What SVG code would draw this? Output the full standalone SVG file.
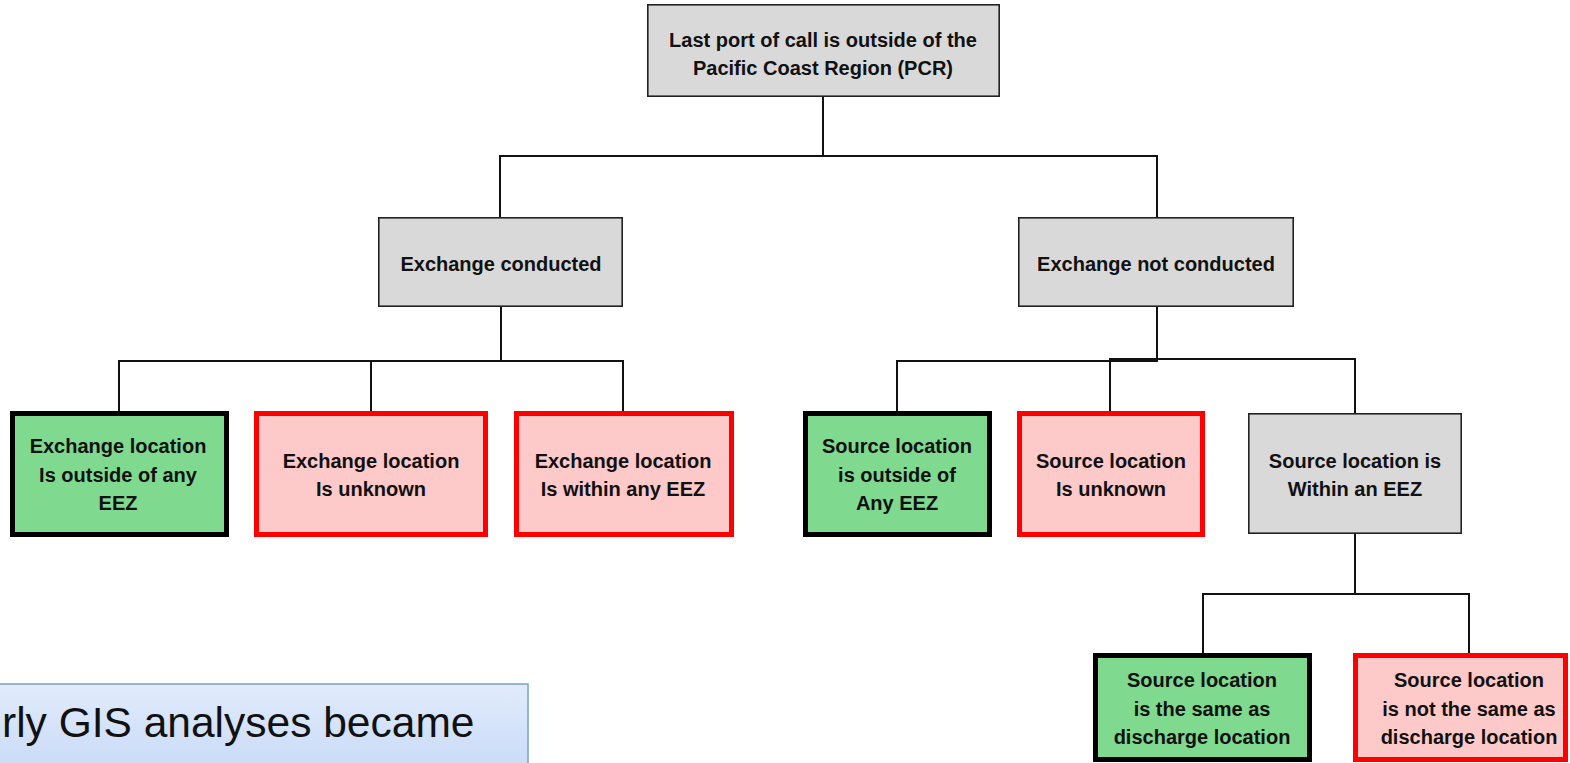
<svg xmlns="http://www.w3.org/2000/svg" width="1570" height="763" viewBox="0 0 1570 763">
<defs>
<linearGradient id="blueGrad" x1="0" y1="0" x2="0" y2="1">
<stop offset="0" stop-color="#e1ebfc"/>
<stop offset="1" stop-color="#c8daf6"/>
</linearGradient>
</defs>
<style>
.gray{fill:#d9d9d9;stroke:#222;stroke-width:1.6}
.green{fill:#7fd98f;stroke:#000;stroke-width:5}
.red{fill:#fdc9c9;stroke:#ff0000;stroke-width:5}
.t{font-family:"Liberation Sans",Arial,sans-serif;font-weight:bold;font-size:20px;fill:#111;text-anchor:middle}
.conn{fill:none;stroke:#111;stroke-width:2}
.big{font-family:"Liberation Sans",Arial,sans-serif;font-size:42.5px;fill:#111}
</style>
<rect width="1570" height="763" fill="#fff"/>
<g id="connectors" class="conn">
<path d="M823,97 V156"/>
<path d="M500,217 V156 H1157 V217"/>
<path d="M501,307 V361"/>
<path d="M119,411 V361 H623 V411"/>
<path d="M371,361 V411"/>
<path d="M1157,307 V361 H897 V411"/>
<path d="M1110,411 V359 H1355 V413"/>
<path d="M1355,534 V594"/>
<path d="M1203,653 V594 H1469 V653"/>
</g>
<g id="n_top">
<rect class="gray" x="647.8" y="4.8" width="351.4" height="91.4"/>
<text class="t" x="823" y="47">Last port of call is outside of the</text>
<text class="t" x="823" y="75">Pacific Coast Region (PCR)</text>
</g>
<g id="n_exch">
<rect class="gray" x="378.8" y="217.8" width="243.4" height="88.4"/>
<text class="t" x="501" y="271">Exchange conducted</text>
</g>
<g id="n_noexch">
<rect class="gray" x="1018.8" y="217.8" width="274.4" height="88.4"/>
<text class="t" x="1156" y="271">Exchange not conducted</text>
</g>
<g id="n_ex_outside">
<rect class="green" x="12.5" y="413.5" width="214" height="121"/>
<text class="t" x="118" y="453">Exchange location</text>
<text class="t" x="118" y="482">Is outside of any</text>
<text class="t" x="118" y="510">EEZ</text>
</g>
<g id="n_ex_unknown">
<rect class="red" x="256.5" y="413.5" width="229" height="121"/>
<text class="t" x="371" y="468">Exchange location</text>
<text class="t" x="371" y="496">Is unknown</text>
</g>
<g id="n_ex_within">
<rect class="red" x="516.5" y="413.5" width="215" height="121"/>
<text class="t" x="623" y="468">Exchange location</text>
<text class="t" x="623" y="496">Is within any EEZ</text>
</g>
<g id="n_src_outside">
<rect class="green" x="805.5" y="413.5" width="184" height="121"/>
<text class="t" x="897" y="453">Source location</text>
<text class="t" x="897" y="482">is outside of</text>
<text class="t" x="897" y="510">Any EEZ</text>
</g>
<g id="n_src_unknown">
<rect class="red" x="1019.5" y="413.5" width="183" height="121"/>
<text class="t" x="1111" y="468">Source location</text>
<text class="t" x="1111" y="496">Is unknown</text>
</g>
<g id="n_src_within">
<rect class="gray" x="1248.8" y="413.8" width="212.4" height="119.4"/>
<text class="t" x="1355" y="468">Source location is</text>
<text class="t" x="1355" y="496">Within an EEZ</text>
</g>
<g id="n_same">
<rect class="green" x="1095.5" y="655.5" width="214" height="104"/>
<text class="t" x="1202" y="687">Source location</text>
<text class="t" x="1202" y="716">is the same as</text>
<text class="t" x="1202" y="744">discharge location</text>
</g>
<g id="n_notsame">
<rect class="red" x="1355.5" y="655.5" width="210" height="104"/>
<text class="t" x="1469" y="687">Source location</text>
<text class="t" x="1469" y="716">is not the same as</text>
<text class="t" x="1469" y="744">discharge location</text>
</g>
<g id="caption">
<rect x="-10" y="684" width="538" height="90" fill="url(#blueGrad)" stroke="#7b9fd0" stroke-width="1.5"/>
<text class="big" x="2" y="737">rly GIS analyses became</text>
</g>
</svg>
